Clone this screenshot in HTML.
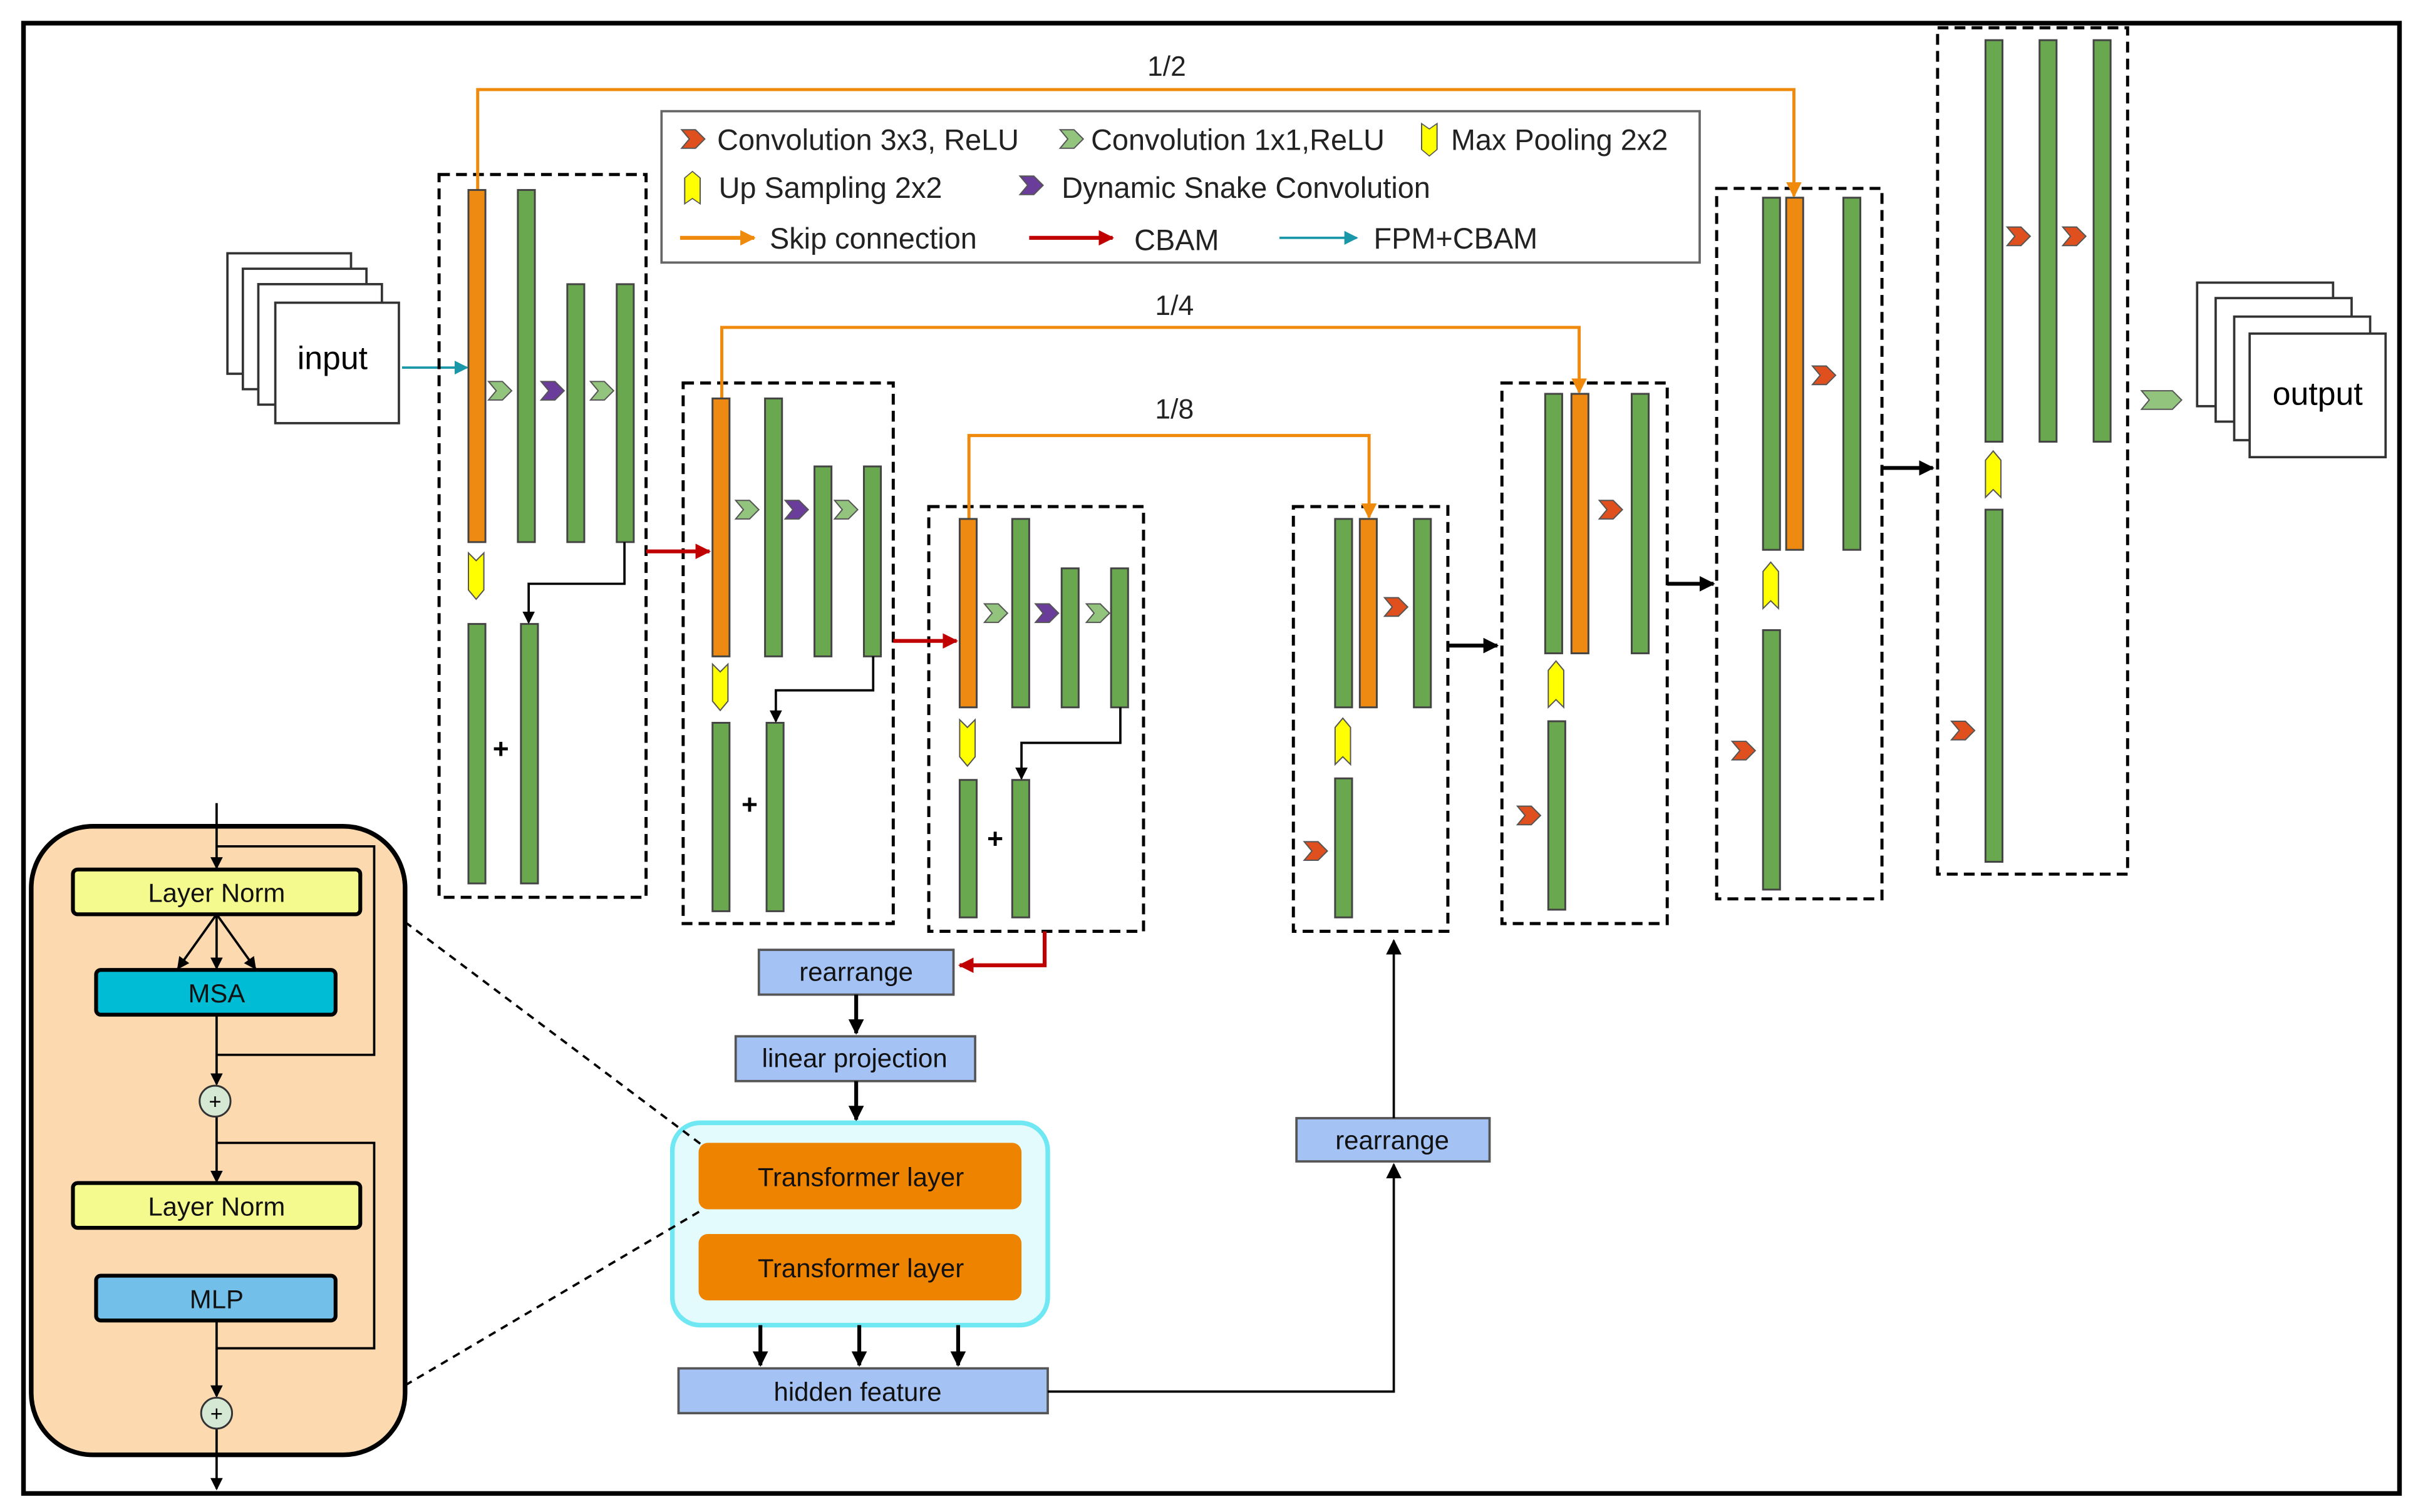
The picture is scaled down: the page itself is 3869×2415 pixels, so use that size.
<!DOCTYPE html>
<html><head><meta charset="utf-8"><style>
html,body{margin:0;padding:0;background:#fff}
svg{display:block}
text{font-family:"Liberation Sans",Arial,sans-serif}
</style></head><body>
<svg width="3869" height="2415" viewBox="0 0 1568 979" xmlns="http://www.w3.org/2000/svg">
<defs>
<marker id="ab" markerWidth="8" markerHeight="8" refX="7" refY="4" orient="auto" markerUnits="userSpaceOnUse"><path d="M0,0 L8,4 L0,8 Z" fill="#000"/></marker>
<marker id="ao" markerWidth="10" markerHeight="10" refX="9" refY="5" orient="auto" markerUnits="userSpaceOnUse"><path d="M0,0 L10,5 L0,10 Z" fill="#f08a0c"/></marker>
<marker id="ar" markerWidth="10" markerHeight="10" refX="9" refY="5" orient="auto" markerUnits="userSpaceOnUse"><path d="M0,0 L10,5 L0,10 Z" fill="#c00000"/></marker>
<marker id="at" markerWidth="9" markerHeight="9" refX="8" refY="4.5" orient="auto" markerUnits="userSpaceOnUse"><path d="M0,0 L9,4.5 L0,9 Z" fill="#1a97a8"/></marker>
<marker id="ak" markerWidth="10" markerHeight="10" refX="9" refY="5" orient="auto" markerUnits="userSpaceOnUse"><path d="M0,0 L10,5 L0,10 Z" fill="#000"/></marker>
<symbol id="cO" overflow="visible"><polygon points="0,-6 9,-6 15,0 9,6 0,6 5,0" fill="#e0501e" stroke="#555" stroke-width="0.8"/></symbol>
<symbol id="cG" overflow="visible"><polygon points="0,-6 9,-6 15,0 9,6 0,6 5,0" fill="#93c47d" stroke="#555" stroke-width="0.8"/></symbol>
<symbol id="cP" overflow="visible"><polygon points="0,-6 9,-6 15,0 9,6 0,6 5,0" fill="#6a3d9a" stroke="#555" stroke-width="0.8"/></symbol>
<symbol id="yD" overflow="visible"><polygon points="0,0 5,5 10,0 10,24 5,30 0,24" fill="#ffff00" stroke="#555" stroke-width="0.8"/></symbol>
<symbol id="yU" overflow="visible"><polygon points="0,6 5,0 10,6 10,30 5,25 0,30" fill="#ffff00" stroke="#555" stroke-width="0.8"/></symbol>
</defs>
<rect x="0" y="0" width="1568" height="979" fill="#fff"/>
<rect x="15" y="15" width="1538" height="952" fill="none" stroke="#000" stroke-width="3"/>

<!-- legend -->
<rect x="428" y="72" width="672" height="98" fill="none" stroke="#666" stroke-width="1.5"/>
<g font-size="19" fill="#222">
<use href="#cO" x="441" y="90"/><text x="464" y="97">Convolution 3x3, ReLU</text>
<use href="#cG" x="686" y="90"/><text x="706" y="97">Convolution 1x1,ReLU</text>
<g transform="translate(920,80) scale(1,0.7)"><use href="#yD" x="0" y="0"/></g><text x="939" y="97">Max Pooling 2x2</text>
<g transform="translate(443,111) scale(1,0.7)"><use href="#yU" x="0" y="0"/></g><text x="465" y="128">Up Sampling 2x2</text>
<use href="#cP" x="660" y="120"/><text x="687" y="128">Dynamic Snake Convolution</text>
<line x1="440" y1="154" x2="488" y2="154" stroke="#f08a0c" stroke-width="2.5" marker-end="url(#ao)"/><text x="498" y="161">Skip connection</text>
<line x1="666" y1="154" x2="720" y2="154" stroke="#c00000" stroke-width="2.5" marker-end="url(#ar)"/><text x="734" y="162">CBAM</text>
<line x1="828" y1="154" x2="878" y2="154" stroke="#1a97a8" stroke-width="1.5" marker-end="url(#at)"/><text x="889" y="161">FPM+CBAM</text>
</g>

<!-- input / output stacks -->
<g fill="#fff" stroke="#333" stroke-width="1.5">
<rect x="147" y="164" width="80" height="78"/><rect x="157" y="174" width="80" height="78"/><rect x="167" y="184" width="80" height="78"/><rect x="178" y="196" width="80" height="78"/>
<rect x="1422" y="183" width="88" height="80"/><rect x="1434" y="193" width="88" height="80"/><rect x="1446" y="205" width="88" height="80"/><rect x="1456" y="216" width="88" height="80"/>
</g>
<text x="215" y="239" font-size="21" text-anchor="middle">input</text>
<text x="1500" y="262" font-size="21" text-anchor="middle">output</text>
<line x1="260" y1="238" x2="302" y2="238" stroke="#1a97a8" stroke-width="1.5" marker-end="url(#at)"/>

<g fill="none" stroke="#000" stroke-width="2" stroke-dasharray="7,4">
<rect x="284" y="113" width="134" height="468"/>
<rect x="442" y="248" width="136" height="350"/>
<rect x="601" y="328" width="139" height="275"/>
<rect x="837" y="328" width="100" height="275"/>
<rect x="972" y="248" width="107" height="350"/>
<rect x="1111" y="122" width="107" height="460"/>
<rect x="1254" y="18" width="123" height="548"/>
</g>

<!-- skip connections -->
<g fill="none" stroke="#f08a0c" stroke-width="2">
<polyline points="309,123 309,58 1161,58 1161,127" marker-end="url(#ao)"/>
<polyline points="467,258 467,212 1022,212 1022,254" marker-end="url(#ao)"/>
<polyline points="627,336 627,282 886,282 886,335" marker-end="url(#ao)"/>
</g>
<g font-size="18" fill="#222" text-anchor="middle">
<text x="755" y="49">1/2</text><text x="760" y="204">1/4</text><text x="760" y="271">1/8</text>
</g>

<!-- bars -->
<g stroke="#444" stroke-width="1.2">
<g fill="#6aa84f">
<rect x="335" y="123" width="11" height="228"/><rect x="367" y="184" width="11" height="167"/><rect x="399" y="184" width="11" height="167"/>
<rect x="303" y="404" width="11" height="168"/><rect x="337" y="404" width="11" height="168"/>
<rect x="495" y="258" width="11" height="167"/><rect x="527" y="302" width="11" height="123"/><rect x="559" y="302" width="11" height="123"/>
<rect x="461" y="468" width="11" height="122"/><rect x="496" y="468" width="11" height="122"/>
<rect x="655" y="336" width="11" height="122"/><rect x="687" y="368" width="11" height="90"/><rect x="719" y="368" width="11" height="90"/>
<rect x="621" y="505" width="11" height="89"/><rect x="655" y="505" width="11" height="89"/>
<rect x="864" y="336" width="11" height="122"/><rect x="915" y="336" width="11" height="122"/><rect x="864" y="504" width="11" height="90"/>
<rect x="1000" y="255" width="11" height="168"/><rect x="1056" y="255" width="11" height="168"/><rect x="1002" y="467" width="11" height="122"/>
<rect x="1141" y="128" width="11" height="228"/><rect x="1193" y="128" width="11" height="228"/><rect x="1141" y="408" width="11" height="168"/>
<rect x="1285" y="26" width="11" height="260"/><rect x="1320" y="26" width="11" height="260"/><rect x="1355" y="26" width="11" height="260"/><rect x="1285" y="330" width="11" height="228"/>
</g>
<g fill="#ee8a12">
<rect x="303" y="123" width="11" height="228"/><rect x="461" y="258" width="11" height="167"/><rect x="621" y="336" width="11" height="122"/>
<rect x="880" y="336" width="11" height="122"/><rect x="1017" y="255" width="11" height="168"/><rect x="1156" y="128" width="11" height="228"/>
</g>
</g>

<!-- chevrons -->
<use href="#cG" x="316" y="253"/><use href="#cP" x="350" y="253"/><use href="#cG" x="382" y="253"/>
<use href="#cG" x="476" y="330"/><use href="#cP" x="508" y="330"/><use href="#cG" x="540" y="330"/>
<use href="#cG" x="637" y="397"/><use href="#cP" x="670" y="397"/><use href="#cG" x="703" y="397"/>
<use href="#cO" x="896" y="393"/><use href="#cO" x="844" y="551"/>
<use href="#cO" x="1035" y="330"/><use href="#cO" x="982" y="528"/>
<use href="#cO" x="1173" y="243"/><use href="#cO" x="1121" y="486"/>
<use href="#cO" x="1299" y="153"/><use href="#cO" x="1335" y="153"/><use href="#cO" x="1263" y="473"/>
<polygon points="1386,253 1406,253 1412,259 1406,265 1386,265 1391,259" fill="#93c47d" stroke="#555" stroke-width="0.8"/>

<!-- yellow arrows -->
<use href="#yD" x="303" y="358"/><use href="#yD" x="461" y="430"/><use href="#yD" x="621" y="466"/>
<use href="#yU" x="864" y="465"/><use href="#yU" x="1002" y="428"/><use href="#yU" x="1141" y="364"/>
<use href="#yU" x="1285" y="292"/>

<g font-size="18" font-weight="bold" text-anchor="middle"><text x="324" y="491">+</text><text x="485" y="527">+</text><text x="644" y="549">+</text></g>

<!-- black connectors -->
<g fill="none" stroke="#000" stroke-width="1.5">
<polyline points="404,351 404,378 342,378 342,403" marker-end="url(#ab)"/>
<polyline points="565,425 565,447 502,447 502,467" marker-end="url(#ab)"/>
<polyline points="725,458 725,481 661,481 661,504" marker-end="url(#ab)"/>
</g>
<g stroke="#000" stroke-width="2.5">
<line x1="937" y1="418" x2="969" y2="418" marker-end="url(#ak)"/>
<line x1="1079" y1="378" x2="1109" y2="378" marker-end="url(#ak)"/>
<line x1="1218" y1="303" x2="1251" y2="303" marker-end="url(#ak)"/>
</g>
<g fill="none" stroke="#c00000" stroke-width="2.5">
<line x1="418" y1="357" x2="459" y2="357" marker-end="url(#ar)"/>
<line x1="578" y1="415" x2="619" y2="415" marker-end="url(#ar)"/>
<polyline points="676,603 676,625 621,625" marker-end="url(#ar)"/>
</g>

<!-- transformer path -->
<g stroke="#555" stroke-width="1.5" fill="#a4c2f4">
<rect x="491" y="615" width="126" height="29"/>
<rect x="476" y="671" width="155" height="29"/>
<rect x="439" y="886" width="239" height="29"/>
<rect x="839" y="724" width="125" height="28"/>
</g>
<g font-size="17" text-anchor="middle" fill="#111">
<text x="554" y="635">rearrange</text><text x="553" y="691">linear projection</text>
<text x="555" y="907">hidden feature</text><text x="901" y="744">rearrange</text>
</g>
<rect x="435" y="727" width="243" height="131" rx="18" fill="#e3fbfd" stroke="#6fe8f3" stroke-width="3"/>
<rect x="452" y="740" width="209" height="43" rx="6" fill="#ee8300"/>
<rect x="452" y="799" width="209" height="43" rx="6" fill="#ee8300"/>
<g font-size="17" text-anchor="middle" fill="#111"><text x="557" y="768">Transformer layer</text><text x="557" y="827">Transformer layer</text></g>
<g stroke="#000" stroke-width="2.5">
<line x1="554" y1="644" x2="554" y2="669" marker-end="url(#ak)"/>
<line x1="554" y1="700" x2="554" y2="725" marker-end="url(#ak)"/>
<line x1="492" y1="858" x2="492" y2="884" marker-end="url(#ak)"/>
<line x1="556" y1="858" x2="556" y2="884" marker-end="url(#ak)"/>
<line x1="620" y1="858" x2="620" y2="884" marker-end="url(#ak)"/>
</g>
<g fill="none" stroke="#000" stroke-width="1.5">
<polyline points="678,901 902,901 902,754" marker-end="url(#ak)"/>
<line x1="902" y1="724" x2="902" y2="609" marker-end="url(#ak)"/>
</g>

<!-- left panel -->
<rect x="20" y="535" width="242" height="407" rx="40" fill="#fcd9ae" stroke="#000" stroke-width="3"/>
<g fill="none" stroke="#000" stroke-width="1.5">
<line x1="140" y1="520" x2="140" y2="562" marker-end="url(#ab)"/>
<polyline points="140,548 242,548 242,683 140,683" />
<line x1="140" y1="592" x2="115" y2="627" marker-end="url(#ab)"/>
<line x1="140" y1="592" x2="140" y2="627" marker-end="url(#ab)"/>
<line x1="140" y1="592" x2="165" y2="627" marker-end="url(#ab)"/>
<line x1="140" y1="657" x2="140" y2="702" marker-end="url(#ab)"/>
<line x1="140" y1="723" x2="140" y2="765" marker-end="url(#ab)"/>
<polyline points="140,740 242,740 242,873 140,873"/>
<line x1="140" y1="855" x2="140" y2="904" marker-end="url(#ab)"/>
<line x1="140" y1="925" x2="140" y2="964" marker-end="url(#ab)"/>
</g>
<rect x="47" y="563" width="186" height="29" rx="3" fill="#f5fa8e" stroke="#000" stroke-width="2.5"/>
<rect x="62" y="628" width="155" height="29" rx="3" fill="#00bcd4" stroke="#000" stroke-width="2.5"/>
<rect x="47" y="766" width="186" height="29" rx="3" fill="#f5fa8e" stroke="#000" stroke-width="2.5"/>
<rect x="62" y="826" width="155" height="29" rx="3" fill="#72c0ea" stroke="#000" stroke-width="2.5"/>
<g font-size="17" text-anchor="middle" fill="#111">
<text x="140" y="584">Layer Norm</text><text x="140" y="649">MSA</text>
<text x="140" y="787">Layer Norm</text><text x="140" y="847">MLP</text>
</g>
<circle cx="139" cy="713" r="10" fill="#d5e8d4" stroke="#333" stroke-width="1.2"/>
<circle cx="140" cy="915" r="10" fill="#d5e8d4" stroke="#333" stroke-width="1.2"/>
<g font-size="14" text-anchor="middle"><text x="139" y="718">+</text><text x="140" y="920">+</text></g>
<g stroke="#000" stroke-width="1.5" stroke-dasharray="5,4">
<line x1="262" y1="597" x2="455" y2="742"/>
<line x1="262" y1="897" x2="455" y2="783"/>
</g>
</svg>
</body></html>
